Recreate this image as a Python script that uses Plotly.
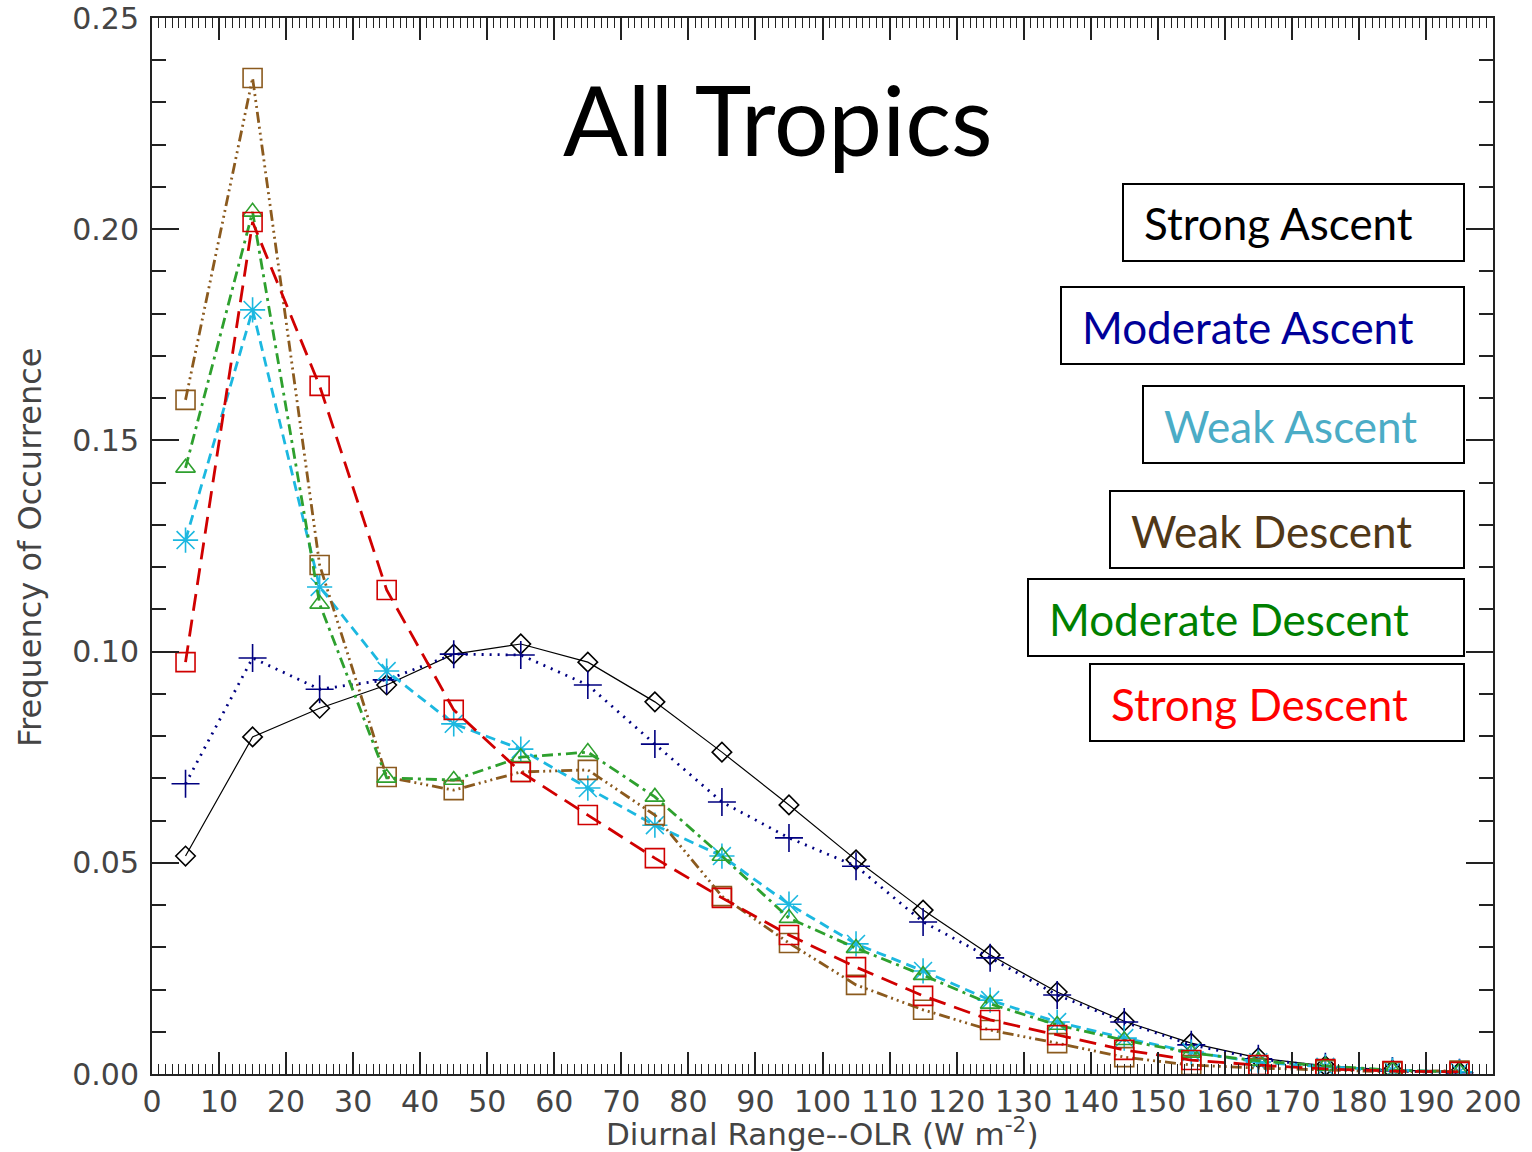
import plotly.graph_objects as go

# Bin centres of the OLR diurnal range histogram (W m-2)
bin_centres = [5, 15, 25, 35, 45, 55, 65, 75, 85, 95,
               105, 115, 125, 135, 145, 155, 165, 175, 185, 195]

# Frequency of occurrence for each vertical-motion regime
strong_ascent = [0.0516, 0.0798, 0.0866, 0.0921, 0.0994, 0.1018, 0.0975, 0.0881, 0.0762, 0.0637,
                 0.0507, 0.0388, 0.0282, 0.0194, 0.0125, 0.0073, 0.0038, 0.0019, 0.0009, 0.0005]
moderate_ascent = [0.0687, 0.0985, 0.0911, 0.0933, 0.0994, 0.0992, 0.0921, 0.0781, 0.0644, 0.0559,
                   0.0492, 0.0360, 0.0275, 0.0187, 0.0123, 0.0069, 0.0036, 0.0017, 0.0007, 0.0003]
weak_ascent = [0.1264, 0.1809, 0.1153, 0.0954, 0.0829, 0.0769, 0.0677, 0.0589, 0.0516, 0.0402,
               0.0308, 0.0244, 0.0175, 0.0123, 0.0085, 0.0052, 0.0028, 0.0017, 0.0009, 0.0005]
weak_descent = [0.1596, 0.2358, 0.1205, 0.0703, 0.0672, 0.0715, 0.0720, 0.0613, 0.0421, 0.0310,
                0.0211, 0.0152, 0.0104, 0.0073, 0.0040, 0.0021, 0.0014, 0.0009, 0.0005, 0.0008]
moderate_descent = [0.1435, 0.2041, 0.1113, 0.0701, 0.0696, 0.0750, 0.0762, 0.0656, 0.0516, 0.0369,
                    0.0298, 0.0234, 0.0166, 0.0116, 0.0080, 0.0050, 0.0031, 0.0019, 0.0009, 0.0005]
strong_descent = [0.0975, 0.2017, 0.1629, 0.1146, 0.0862, 0.0715, 0.0613, 0.0511, 0.0417, 0.0329,
                  0.0253, 0.0185, 0.0128, 0.0092, 0.0057, 0.0033, 0.0021, 0.0012, 0.0007, 0.0005]

regime_names = ["Strong Ascent", "Moderate Ascent", "Weak Ascent",
                "Weak Descent", "Moderate Descent", "Strong Descent"]

x_ticks = list(range(0, 201, 10))
y_ticks = [0.00, 0.05, 0.10, 0.15, 0.20, 0.25]

# Figure geometry (pixels)
W, H = 1532, 1152
L, R, T, B = 152, 1493, 18, 1074


def px_x(px):
    return (px - L) / (R - L)


def px_y(py):
    return (B - py) / (B - T)


series = [
    (strong_ascent, "#000000", "solid", 1.2, "diamond-open", 15),
    (moderate_ascent, "#000080", "2px,6px", 2.8, "cross-thin-open", 20),
    (weak_ascent, "#1CB8E0", "10px,6px", 2.8, "asterisk-open", 21),
    (weak_descent, "#8B5A1E", "11px,4px,2px,4px,2px,4px,2px,4px", 2.8, "square-open", 19),
    (moderate_descent, "#2EA02E", "11px,5px,3px,5px", 2.8, "triangle-up-open", 17),
    (strong_descent, "#D00000", "17px,9px", 2.8, "square-open", 19),
]

fig = go.Figure()
for (vals, col, dash, lw, sym, msize), name in zip(series, regime_names):
    fig.add_trace(go.Scatter(
        x=bin_centres, y=vals, name=name, mode="lines+markers",
        line=dict(color=col, width=lw, dash=dash),
        marker=dict(symbol=sym, size=msize, color=col, line=dict(color=col, width=1.6)),
        showlegend=False,
    ))

tick_font = dict(family="DejaVu Sans", size=30, color="#444444")
title_font = dict(family="DejaVu Sans", size=31, color="#444444")

fig.update_xaxes(
    range=[0, 200], tickvals=x_ticks, ticktext=[str(v) for v in x_ticks],
    ticks="inside", ticklen=22, tickwidth=1.5, tickcolor="#222222",
    minor=dict(dtick=1, ticks="inside", ticklen=10, tickwidth=1.2, tickcolor="#222222"),
    showline=True, linecolor="#222222", linewidth=2, mirror="ticks",
    showgrid=False, zeroline=False, tickfont=tick_font, ticklabelstandoff=0,
    ticklabeloverflow="allow", automargin=False,
)
fig.update_yaxes(
    range=[0, 0.25], tickvals=y_ticks, ticktext=[f"{v:.2f}" for v in y_ticks],
    ticks="inside", ticklen=27, tickwidth=1.5, tickcolor="#222222",
    minor=dict(dtick=0.01, ticks="inside", ticklen=14, tickwidth=1.5, tickcolor="#222222"),
    showline=True, linecolor="#222222", linewidth=2, mirror="ticks",
    showgrid=False, zeroline=False, tickfont=tick_font, ticklabelstandoff=5,
    ticklabeloverflow="allow", automargin=False,
)

annotations = [
    dict(text="All Tropics", x=px_x(778), y=px_y(118), xref="paper", yref="paper",
         xanchor="center", yanchor="middle", showarrow=False,
         font=dict(family="Lato", size=96, color="#000000")),
    dict(text="Frequency of Occurrence", x=px_x(30), y=px_y(548), xref="paper", yref="paper",
         xanchor="center", yanchor="middle", textangle=-90, showarrow=False,
         font=dict(family="DejaVu Sans", size=32, color="#444444")),
    dict(text="Diurnal Range--OLR (W m<sup>-2</sup>)", x=px_x(822), y=px_y(1132),
         xref="paper", yref="paper", xanchor="center", yanchor="middle", showarrow=False,
         font=title_font),
]

# Regime key: one framed label per regime
label_colors = ["#000000", "#000099", "#4BACC6", "#503818", "#008000", "#FF0000"]
box_left = [1123, 1061, 1143, 1110, 1028, 1090]
box_top = [184, 287, 386, 491, 579, 664]
box_h = 77
box_right = 1464
shapes = []
for name, col, bl, bt in zip(regime_names, label_colors, box_left, box_top):
    shapes.append(dict(type="rect", xref="paper", yref="paper",
                       x0=px_x(bl), x1=px_x(box_right), y0=px_y(bt + box_h), y1=px_y(bt),
                       line=dict(color="#000000", width=2), fillcolor="rgba(0,0,0,0)"))
    annotations.append(dict(text=name, x=px_x(bl + 19), y=px_y(bt + box_h / 2 + 1),
                            xref="paper", yref="paper", xanchor="left", yanchor="middle",
                            showarrow=False,
                            font=dict(family="Lato", size=44, color=col)))

fig.update_layout(
    width=W, height=H,
    margin=dict(l=L, r=W - R, t=T, b=H - B, autoexpand=False),
    paper_bgcolor="white", plot_bgcolor="white",
    annotations=annotations, shapes=shapes,
)

fig.write_html("out.html")
